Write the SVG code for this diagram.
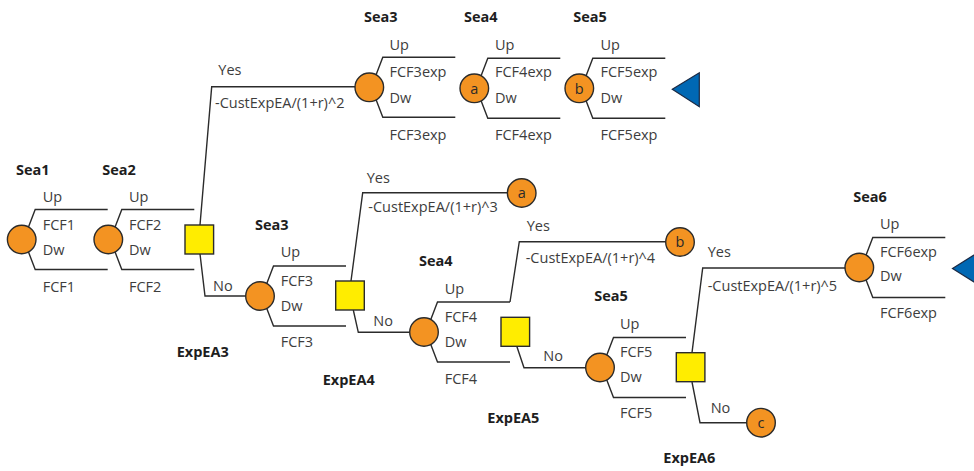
<svg xmlns="http://www.w3.org/2000/svg" width="974" height="471" viewBox="0 0 974 471">
<style>
text{font-family:"Open Sans","Liberation Sans",Arial,sans-serif;font-size:14.5px;fill:#3d3d3d}
.b{font-weight:bold;fill:#1e1e1e}
.ln{fill:none;stroke:#2b2b2b;stroke-width:1.4}
.ch{fill:#f39322;stroke:#2b2b2b;stroke-width:1.4}
.dc{fill:#ffed00;stroke:#2b2b2b;stroke-width:1.4}
.tr{fill:#0068b4;stroke:#1b2a44;stroke-width:1.2}
.lt{text-anchor:middle;fill:#2a2a2a}
</style>
<defs>
<path id="br" class="ln" d="M2,0 L13.5,-30 H86 M2,0 L13.5,30 H86"/>
</defs>
<g id="connectors">
<path class="ln" d="M200,225 L211.7,86.7 H369"/>
<path class="ln" d="M200,254 L205,296 H260"/>
<path class="ln" d="M351,281 L362.7,192.7 H521.7"/>
<path class="ln" d="M353.3,310 L358.3,332.3 H424"/>
<path class="ln" d="M510,302 L519.3,241.7 H680"/>
<path class="ln" d="M516.7,346 L524,367.8 H600"/>
<path class="ln" d="M692,352.7 L702.7,268 H859"/>
<path class="ln" d="M692,382 L700,422.7 H761"/>
</g>
<g id="sea1">
<use href="#br" x="21.7" y="239.5"/>
<circle class="ch" cx="21.7" cy="239.5" r="14.3"/>
<text class="b" x="16" y="175">Sea1</text>
<text x="42.7" y="202">Up</text><text x="42.7" y="230">FCF1</text><text x="42.7" y="255">Dw</text><text x="42.7" y="291.5">FCF1</text>
</g>
<g id="sea2">
<use href="#br" x="108.3" y="239.5"/>
<circle class="ch" cx="108.3" cy="239.5" r="14.3"/>
<text class="b" x="102.3" y="175">Sea2</text>
<text x="129" y="202">Up</text><text x="129" y="230">FCF2</text><text x="129" y="255">Dw</text><text x="129" y="291.5">FCF2</text>
</g>
<g id="expea3">
<rect class="dc" x="185" y="225" width="28.6" height="29"/>
<text class="b" x="176.7" y="356.7">ExpEA3</text>
<text x="218.3" y="75">Yes</text>
<text x="215" y="108.3">-CustExpEA/(1+r)^2</text>
<text x="213" y="290.7">No</text>
</g>
<g id="sea3-top">
<use href="#br" x="369.3" y="87.3"/>
<circle class="ch" cx="369.3" cy="87.3" r="14.3"/>
<text class="b" x="364" y="22">Sea3</text>
<text x="389.5" y="50">Up</text><text x="389.5" y="77">FCF3exp</text><text x="389.5" y="102.5">Dw</text><text x="389.5" y="140">FCF3exp</text>
</g>
<g id="sea4-top">
<use href="#br" x="474.3" y="88.3"/>
<circle class="ch" cx="474.3" cy="88.3" r="14.3"/>
<text class="lt" x="474.3" y="93.5">a</text>
<text class="b" x="464" y="22">Sea4</text>
<text x="495" y="50">Up</text><text x="495" y="77">FCF4exp</text><text x="495" y="102.5">Dw</text><text x="495" y="140">FCF4exp</text>
</g>
<g id="sea5-top">
<use href="#br" x="579.3" y="88.3"/>
<circle class="ch" cx="579.3" cy="88.3" r="14.3"/>
<text class="lt" x="579.3" y="93.5">b</text>
<text class="b" x="573.3" y="22">Sea5</text>
<text x="600.5" y="50">Up</text><text x="600.5" y="77">FCF5exp</text><text x="600.5" y="102.5">Dw</text><text x="600.5" y="140">FCF5exp</text>
</g>
<g id="end-top"><polygon class="tr" points="672.3,89.3 699.3,72.7 699.3,106.7"/></g>
<g id="sea3-mid">
<use href="#br" x="260" y="296"/>
<circle class="ch" cx="260" cy="296" r="14.3"/>
<text class="b" x="255" y="229.5">Sea3</text>
<text x="280.7" y="257">Up</text><text x="280.7" y="285.5">FCF3</text><text x="280.7" y="310.5">Dw</text><text x="280.7" y="347">FCF3</text>
</g>
<g id="expea4">
<rect class="dc" x="335.7" y="281" width="28.6" height="29"/>
<text class="b" x="322.7" y="385">ExpEA4</text>
<text x="366.7" y="182.7">Yes</text>
<text x="368.3" y="212.3">-CustExpEA/(1+r)^3</text>
<text x="373.3" y="325.7">No</text>
</g>
<g id="a-mid">
<circle class="ch" cx="521.7" cy="193" r="14.3"/>
<text class="lt" x="521.7" y="198.2">a</text>
</g>
<g id="sea4">
<use href="#br" x="424" y="332"/>
<circle class="ch" cx="424" cy="332" r="14.3"/>
<text class="b" x="419" y="266">Sea4</text>
<text x="444.7" y="294">Up</text><text x="444.7" y="322">FCF4</text><text x="444.7" y="347">Dw</text><text x="444.7" y="384">FCF4</text>
</g>
<g id="expea5">
<rect class="dc" x="501" y="317.3" width="28.6" height="29"/>
<text class="b" x="487.3" y="423.3">ExpEA5</text>
<text x="526.7" y="230.7">Yes</text>
<text x="525.7" y="263.3">-CustExpEA/(1+r)^4</text>
<text x="543.3" y="360.7">No</text>
</g>
<g id="b-mid">
<circle class="ch" cx="680" cy="242" r="14.3"/>
<text class="lt" x="680" y="247.2">b</text>
</g>
<g id="sea5">
<use href="#br" x="600" y="367.5"/>
<circle class="ch" cx="600" cy="367.5" r="14.3"/>
<text class="b" x="594.3" y="301">Sea5</text>
<text x="620" y="328.5">Up</text><text x="620" y="357">FCF5</text><text x="620" y="382">Dw</text><text x="620" y="417.5">FCF5</text>
</g>
<g id="expea6">
<rect class="dc" x="676.3" y="352.7" width="28.6" height="29"/>
<text class="b" x="663.3" y="462.7">ExpEA6</text>
<text x="707.7" y="257.3">Yes</text>
<text x="707.7" y="290.7">-CustExpEA/(1+r)^5</text>
<text x="710.7" y="412.7">No</text>
</g>
<g id="c-end">
<circle class="ch" cx="761" cy="422.7" r="14.3"/>
<text class="lt" x="761" y="427.9">c</text>
</g>
<g id="sea6">
<use href="#br" x="859.3" y="267.5"/>
<circle class="ch" cx="859.3" cy="267.5" r="14.3"/>
<text class="b" x="853.3" y="201.7">Sea6</text>
<text x="880" y="228.5">Up</text><text x="880" y="256.7">FCF6exp</text><text x="880" y="281">Dw</text><text x="880" y="317.5">FCF6exp</text>
</g>
<g id="end-right"><polygon class="tr" points="952.5,268.5 979.5,251.5 979.5,285.5"/></g>
</svg>
